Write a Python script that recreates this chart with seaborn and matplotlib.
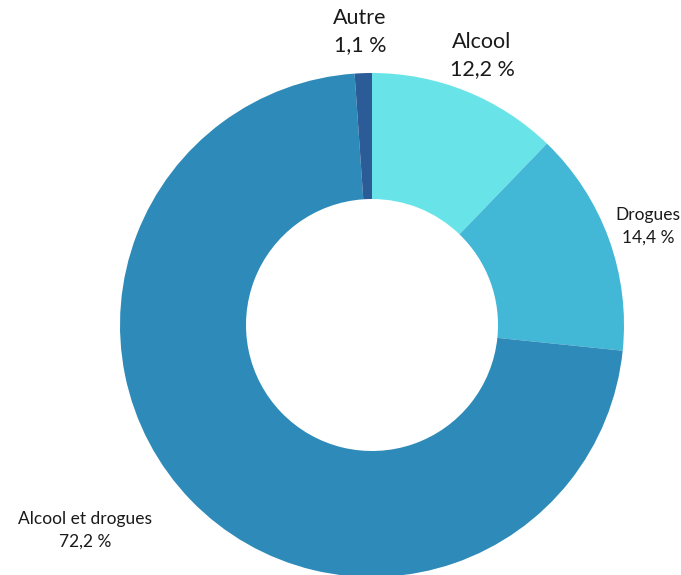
import matplotlib
matplotlib.use("Agg")
import matplotlib.pyplot as plt
import seaborn as sns

categories = ["Alcool", "Drogues", "Alcool et drogues", "Autre"]
values = [12.2, 14.4, 72.2, 1.1]
value_labels = ["12,2 %", "14,4 %", "72,2 %", "1,1 %"]
colors = ["#68E4E8", "#42B7D6", "#2E8BB9", "#2C5C98"]

sns.set_theme(style="white")
plt.rcParams["font.family"] = ["Lato", "DejaVu Sans"]

W, H = 681, 575
fig = plt.figure(figsize=(W / 100, H / 100), dpi=100)
ax = fig.add_axes([0, 0, 1, 1])

cx, cy, R = 372, H - 325, 252
ax.pie(values, colors=sns.color_palette(colors), startangle=90, counterclock=False,
       radius=R, center=(cx, cy), frame=True,
       wedgeprops=dict(width=R * 0.5, linewidth=0))
ax.set_xlim(0, W)
ax.set_ylim(0, H)
ax.set_aspect("equal")
ax.axis("off")

label_pos = {
    "Alcool": (482, 42, "big"),
    "Drogues": (648, 215, "small"),
    "Alcool et drogues": (85, 519, "small"),
    "Autre": (360, 18, "big"),
}
sizes = {"big": 15.5, "small": 12.5}
line_gap = {"big": 27, "small": 23}
for cat, vl in zip(categories, value_labels):
    x, y, s = label_pos[cat]
    ax.text(x, H - y, cat, ha="center", va="center", fontsize=sizes[s], color="#1a1a1a")
    ax.text(x, H - y - line_gap[s], vl, ha="center", va="center", fontsize=sizes[s], color="#1a1a1a")

fig.savefig("out.png", dpi=100)
